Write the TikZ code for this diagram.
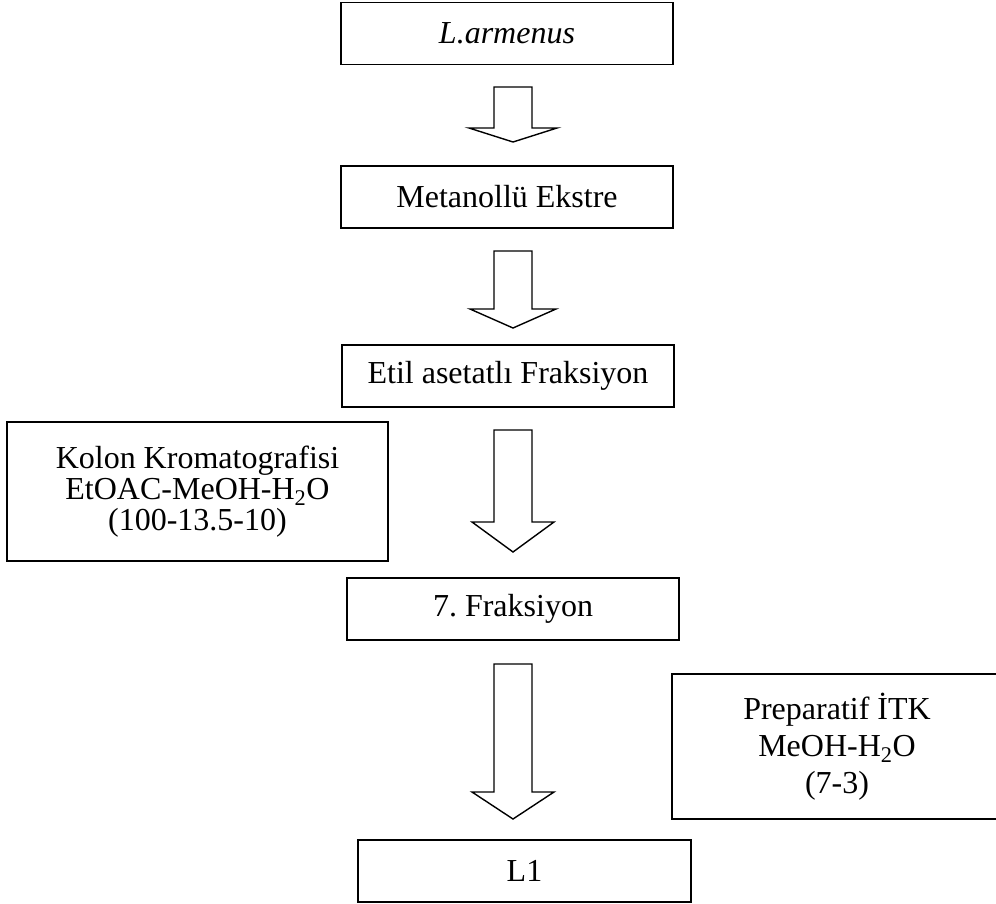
\documentclass[tikz,border=0pt]{standalone}
\usepackage{fontspec}
\setmainfont{Liberation Serif}

\tikzset{
  scatola/.style={draw, line width=1.6pt, minimum width=332pt, minimum height=62pt,
    inner sep=0pt, align=center, font=\fontsize{32}{36}\selectfont},
  freccia/.style={draw, line width=1.4pt, line join=miter, fill=white}
}

% freccia vuota: {cima}{spalla}{punta}{mezza larghezza testa}
\newcommand{\frecciagrossa}[4]{%
  \draw[freccia] (494,#1) -- (532,#1) -- (532,#2) -- (513+#4,#2) -- (513,#3)
    -- (513-#4,#2) -- (494,#2) -- cycle;}

\begin{document}
\begin{tikzpicture}[x=1pt, y=-1pt]
    \clip (0,0) rectangle (996,903);
    \fill[white] (0,0) rectangle (996,903);

    % scatole della colonna centrale
    \node[scatola] (bitki) at (507,33.5) {\textit{L.armenus}};
    \node[scatola] (ekstre) at (507,197) {Metanollü Ekstre};
    \node[scatola] (etil) at (508,376) {Etil asetatlı Fraksiyon};
    \node[scatola] (fraksiyon) at (513,609) {7.\ Fraksiyon};
    \node[scatola, minimum width=333pt] (l1) at (524.5,871) {L1};

    % scatole laterali
    \node[scatola, minimum width=381pt, minimum height=139pt,
      font=\fontsize{32}{31}\selectfont] (kolon) at (197.5,491.5)
      {Kolon Kromatografisi\\EtOAC-MeOH-H\textsubscript{2}O\\(100-13.5-10)};
    \node[scatola, minimum width=330pt, minimum height=145pt,
      font=\fontsize{32}{37}\selectfont] (preparatif) at (837,746.5)
      {Preparatif İTK\\MeOH-H\textsubscript{2}O\\(7-3)};

    % frecce
    \frecciagrossa{87}{128}{142}{44}
    \frecciagrossa{251}{309}{328}{43}
    \frecciagrossa{430}{522}{552}{41}
    \frecciagrossa{664}{792}{819}{41}
\end{tikzpicture}
\end{document}
